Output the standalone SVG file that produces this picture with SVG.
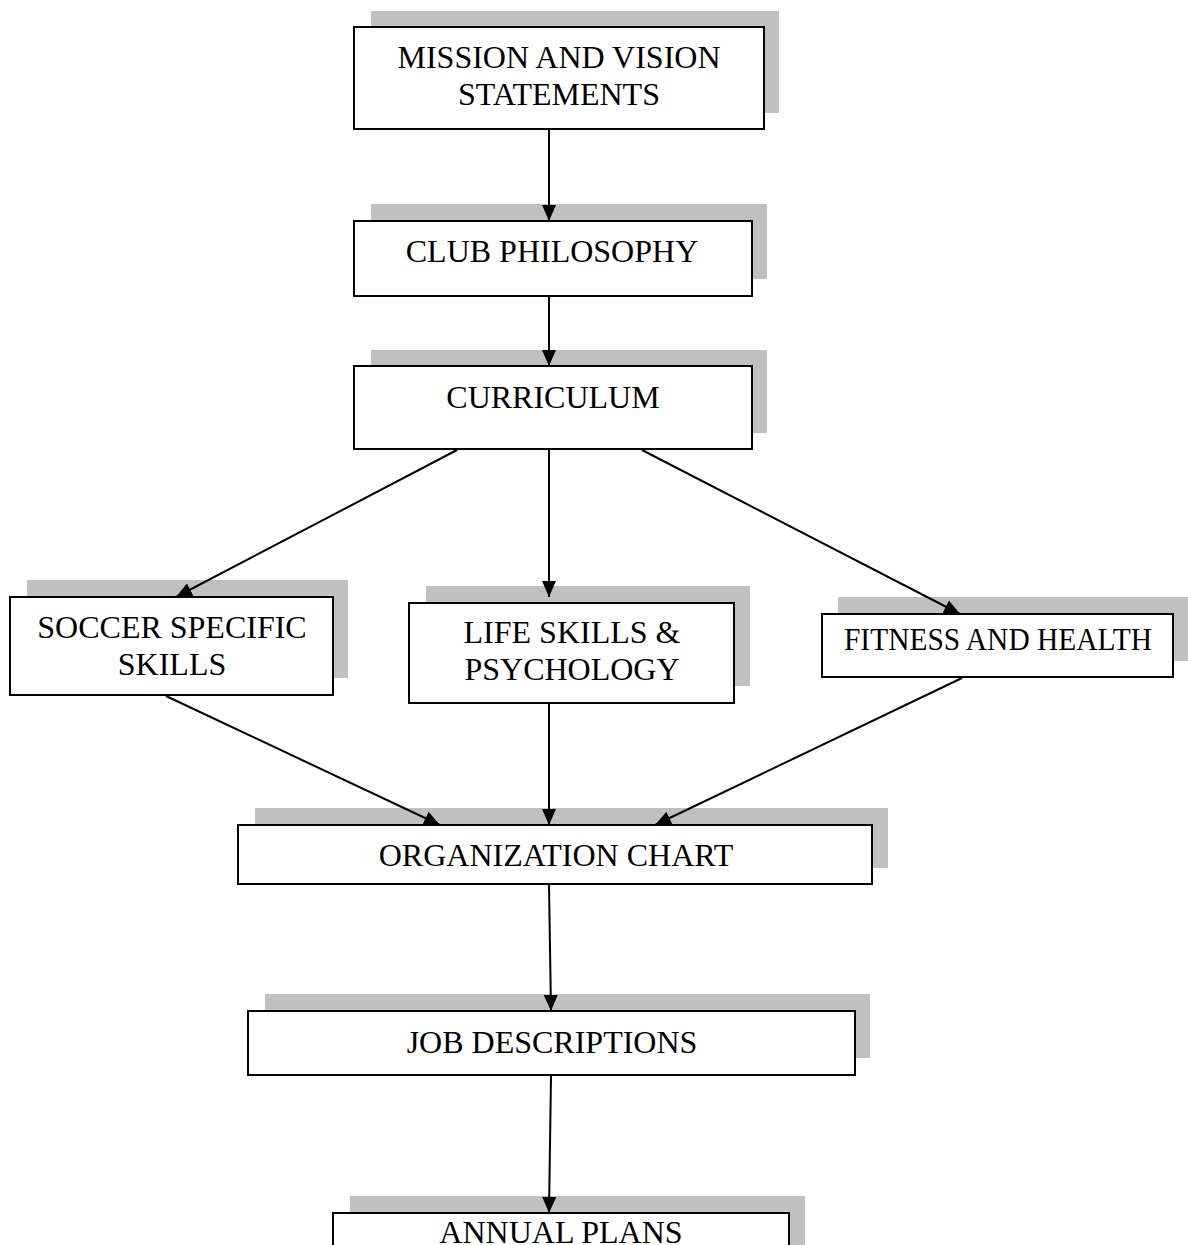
<svg xmlns="http://www.w3.org/2000/svg" width="1188" height="1245" viewBox="0 0 1188 1245">
<defs>
<style>
.sh{fill:#c0c0c0;stroke:none}
.bx{fill:#fff;stroke:#000;stroke-width:2}
.t{font-family:"Liberation Serif","Times New Roman",serif;font-size:32px;fill:#000;text-anchor:middle}
.c{stroke:#000;stroke-width:2;fill:none;marker-end:url(#ah)}
</style>
<marker id="ah" viewBox="0 0 16 16" refX="16" refY="8" markerWidth="16" markerHeight="16" markerUnits="userSpaceOnUse" orient="auto">
<path d="M0,1 L16,8 L0,15 Z" fill="#000"/>
</marker>
</defs>
<rect width="1188" height="1245" fill="#fff"/>
<g id="mission">
<rect class="sh" x="371" y="11" width="408" height="102"/>
<rect class="bx" x="354" y="27" width="410" height="102"/>
<text class="t" x="559" y="68">MISSION AND VISION</text>
<text class="t" x="559" y="105">STATEMENTS</text>
</g>
<g id="club">
<rect class="sh" x="371" y="204" width="396" height="75"/>
<rect class="bx" x="354" y="221" width="398" height="75"/>
<text class="t" x="552" y="262">CLUB PHILOSOPHY</text>
</g>
<g id="curriculum">
<rect class="sh" x="371" y="350" width="396" height="83"/>
<rect class="bx" x="354" y="366" width="398" height="83"/>
<text class="t" x="553" y="408">CURRICULUM</text>
</g>
<g id="soccer">
<rect class="sh" x="27" y="580" width="321" height="98"/>
<rect class="bx" x="10" y="597" width="323" height="98"/>
<text class="t" x="172" y="638">SOCCER SPECIFIC</text>
<text class="t" x="172" y="675">SKILLS</text>
</g>
<g id="life">
<rect class="sh" x="426" y="586" width="324" height="100"/>
<rect class="bx" x="409" y="603" width="325" height="100"/>
<text class="t" x="572" y="643">LIFE SKILLS &amp;</text>
<text class="t" x="572" y="680">PSYCHOLOGY</text>
</g>
<g id="fitness">
<rect class="sh" x="838" y="597" width="350" height="64"/>
<rect class="bx" x="822" y="614" width="351" height="63"/>
<text class="t" x="998" y="650" textLength="308" lengthAdjust="spacingAndGlyphs">FITNESS AND HEALTH</text>
</g>
<g id="org">
<rect class="sh" x="255" y="808" width="633" height="60"/>
<rect class="bx" x="238" y="825" width="634" height="59"/>
<text class="t" x="556" y="866">ORGANIZATION CHART</text>
</g>
<g id="job">
<rect class="sh" x="265" y="994" width="605" height="64"/>
<rect class="bx" x="248" y="1011" width="607" height="64"/>
<text class="t" x="552" y="1053">JOB DESCRIPTIONS</text>
</g>
<g id="annual">
<rect class="sh" x="350" y="1196" width="455" height="60"/>
<rect class="bx" x="333" y="1213" width="456" height="60"/>
<text class="t" x="561" y="1243">ANNUAL PLANS</text>
</g>
<g id="connectors">
<line class="c" x1="549" y1="130" x2="549" y2="221"/>
<line class="c" x1="549" y1="297" x2="549" y2="366"/>
<line class="c" x1="457" y1="450" x2="176" y2="597"/>
<line class="c" x1="549" y1="450" x2="549" y2="597"/>
<line class="c" x1="642" y1="450" x2="960" y2="614"/>
<line class="c" x1="166" y1="696" x2="440" y2="825"/>
<line class="c" x1="549" y1="704" x2="549" y2="825"/>
<line class="c" x1="962" y1="678" x2="655" y2="825"/>
<line class="c" x1="549" y1="885" x2="551" y2="1011"/>
<line class="c" x1="551" y1="1076" x2="549" y2="1213"/>
</g>
</svg>
